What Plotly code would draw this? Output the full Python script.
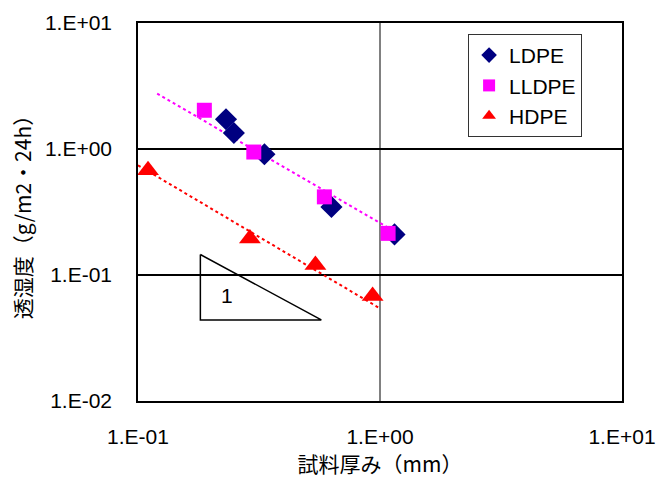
import plotly.graph_objects as go
import numpy as np

# Data
ldpe_x = [0.231, 0.249, 0.333, 0.630, 1.148]
ldpe_y = [1.72, 1.34, 0.908, 0.347, 0.210]
lldpe_x = [0.188, 0.301, 0.589, 1.080]
lldpe_y = [2.03, 0.946, 0.417, 0.214]
hdpe_x = [0.110, 0.290, 0.541, 0.932]
hdpe_y = [0.678, 0.195, 0.120, 0.068]

# trendline endpoints
lldpe_trend_x = [0.12, 1.10]
lldpe_trend_y = [2.75, 0.233]
hdpe_trend_x = [0.10, 1.00]
hdpe_trend_y = [0.743, 0.0543]

# slope triangle (data coordinates)
tri_x = [0.181, 0.181, 0.572, 0.181]
tri_y = [0.1455, 0.0440, 0.0440, 0.1455]

x_tickvals = [0.1, 1, 10]
x_ticktext = ["1.E-01", "1.E+00", "1.E+01"]
y_tickvals = [0.01, 0.1, 1, 10]
y_ticktext = ["1.E-02", "1.E-01", "1.E+00", "1.E+01"]

fig = go.Figure()

fig.add_trace(go.Scatter(x=lldpe_trend_x, y=lldpe_trend_y, mode="lines",
                         line=dict(color="#FF00FF", width=2, dash="dot"),
                         showlegend=False, hoverinfo="skip"))
fig.add_trace(go.Scatter(x=hdpe_trend_x, y=hdpe_trend_y, mode="lines",
                         line=dict(color="#FF0000", width=2, dash="dot"),
                         showlegend=False, hoverinfo="skip"))
fig.add_trace(go.Scatter(x=tri_x, y=tri_y, mode="lines",
                         line=dict(color="black", width=1.5),
                         showlegend=False, hoverinfo="skip"))

fig.add_trace(go.Scatter(x=ldpe_x, y=ldpe_y, mode="markers", name="LDPE",
                         marker=dict(symbol="diamond", size=17, color="#000080")))
fig.add_trace(go.Scatter(x=lldpe_x, y=lldpe_y, mode="markers", name="LLDPE",
                         marker=dict(symbol="square", size=15, color="#FF00FF")))
fig.add_trace(go.Scatter(x=hdpe_x, y=hdpe_y, mode="markers", name="HDPE",
                         marker=dict(symbol="triangle-up", size=19, color="#FF0000")))

fig.add_annotation(x=np.log10(0.2335), y=np.log10(0.0693), text="1", showarrow=False,
                   font=dict(size=21, color="black", family="Liberation Sans"))

fig.update_layout(
    width=656, height=479,
    margin=dict(l=138, r=34, t=23, b=78),
    paper_bgcolor="white", plot_bgcolor="white",
    font=dict(family="Liberation Sans", size=21, color="black"),
    legend=dict(x=0.682, y=0.971, xanchor="left", yanchor="top",
                bordercolor="#333333", borderwidth=1, bgcolor="white",
                font=dict(size=21, family="Liberation Sans"),
                tracegroupgap=0, itemsizing="constant", itemwidth=30,
                entrywidth=92, entrywidthmode="pixels"),
    xaxis=dict(type="log", range=[-1, 1], tickvals=x_tickvals, ticktext=x_ticktext,
               showgrid=True, gridcolor="#808080", gridwidth=1.5,
               showline=True, linecolor="black", linewidth=1.5, mirror=True,
               ticks="", ticklabelstandoff=16, zeroline=False, automargin=False,
               title=dict(text="試料厚み（mm）", font=dict(family="Noto Sans CJK JP", size=21),
                          standoff=6)),
    yaxis=dict(type="log", range=[-2, 1], tickvals=y_tickvals, ticktext=y_ticktext,
               showgrid=True, gridcolor="black", gridwidth=1.5,
               showline=True, linecolor="black", linewidth=1.5, mirror=True,
               ticks="", ticklabelstandoff=20, zeroline=False, automargin=False,
               title=dict(text="透湿度（g/m2・24h）", font=dict(family="Noto Sans CJK JP", size=21),
                          standoff=8)),
)

fig.write_html("out.html", config={"displayModeBar": False},
               post_script="document.body.style.margin='0';")
